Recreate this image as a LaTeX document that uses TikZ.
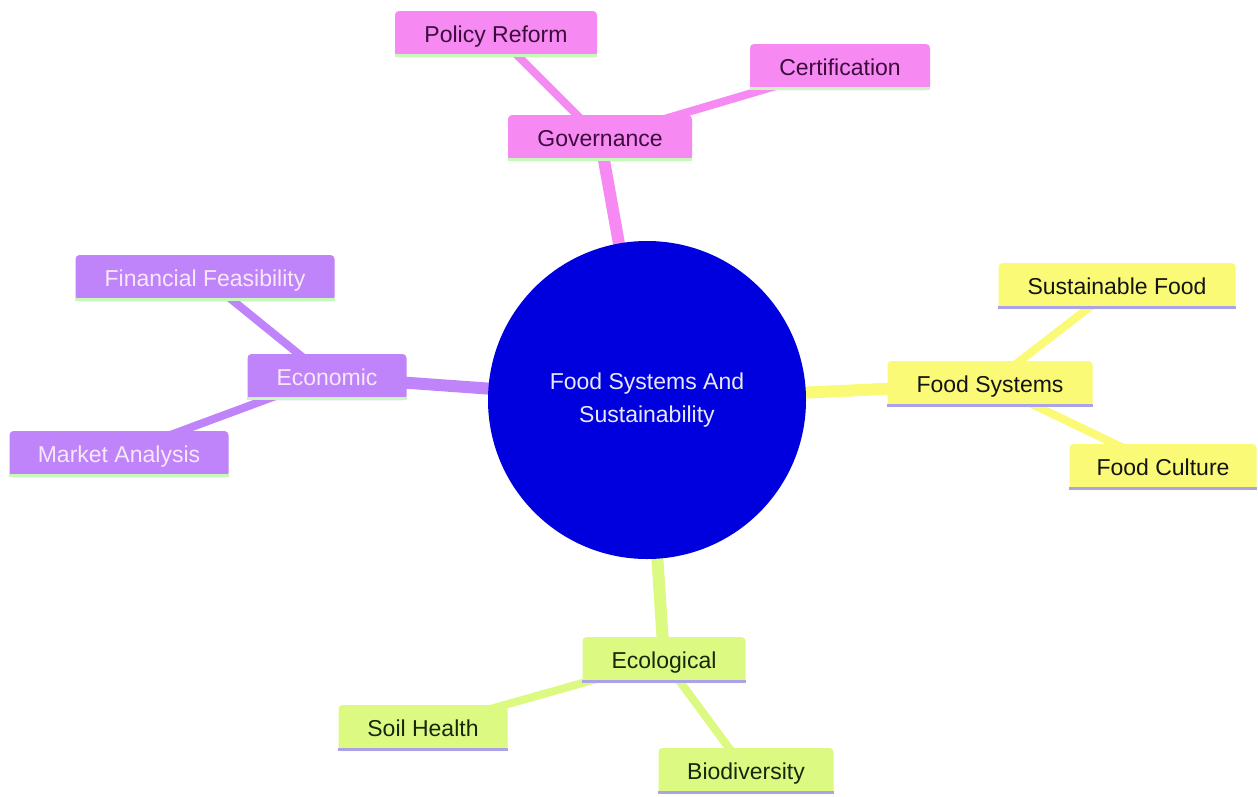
\documentclass[tikz,border=0pt]{standalone}
\usepackage{fontspec}
\setmainfont{Liberation Sans}
\usetikzlibrary{backgrounds}
\definecolor{pinkF}{RGB}{246,138,242}
\definecolor{pinkT}{RGB}{60,12,60}
\definecolor{purpF}{RGB}{192,132,250}
\definecolor{purpT}{RGB}{246,232,246}
\definecolor{yelF}{RGB}{250,250,118}
\definecolor{yelT}{RGB}{20,20,20}
\definecolor{grnF}{RGB}{220,250,130}
\definecolor{grnT}{RGB}{22,40,12}
\definecolor{ulGreen}{RGB}{200,248,188}
\definecolor{ulLav}{RGB}{172,162,232}
\definecolor{coreBlue}{RGB}{0,0,222}
\definecolor{coreT}{RGB}{232,232,245}
\tikzset{
  x=1pt, y=-1pt,
  box/.style={rectangle, rounded corners=4pt, inner xsep=0pt, inner ysep=0pt,
    minimum height=46pt, text height=17pt, text depth=0pt,
    font=\fontsize{23}{27}\selectfont},
  pinkbox/.style={box, fill=pinkF, text=pinkT},
  purpbox/.style={box, fill=purpF, text=purpT},
  yelbox/.style={box, fill=yelF, text=yelT},
  grnbox/.style={box, fill=grnF, text=grnT},
  mainedge/.style={line width=12pt},
  leafedge/.style={line width=8pt},
  uline/.style={line width=3.5pt},
}
\begin{document}
\begin{tikzpicture}
\useasboundingbox (0,0) rectangle (1258,796);
% central
\node[circle, fill=coreBlue, text=coreT, minimum size=318pt, inner sep=0pt,
  align=center, font=\fontsize{23}{33}\selectfont] (core) at (647,400)
  {Food Systems And\\Sustainability};
% governance
\node[pinkbox, minimum width=184pt] (gov) at (600,138) {Governance};
\node[pinkbox, minimum width=202pt] (pol) at (496,34) {Policy Reform};
\node[pinkbox, minimum width=180pt] (cert) at (840,67) {Certification};
% economic
\node[purpbox, minimum width=159pt] (eco) at (327,377) {Economic};
\node[purpbox, minimum width=259pt] (fin) at (205,278) {Financial Feasibility};
\node[purpbox, minimum width=219pt] (mkt) at (119,454) {Market Analysis};
% food systems
\node[yelbox, minimum width=205pt] (fs) at (990,384) {Food Systems};
\node[yelbox, minimum width=237pt] (sf) at (1117,286) {Sustainable Food};
\node[yelbox, minimum width=187pt] (fc) at (1163,467) {Food Culture};
% ecological
\node[grnbox, minimum width=163pt] (ecol) at (664,660) {Ecological};
\node[grnbox, minimum width=169pt] (soil) at (423,728) {Soil Health};
\node[grnbox, minimum width=175pt] (bio) at (746,771) {Biodiversity};
% underlines
\foreach \n in {gov,pol,cert,eco,fin,mkt}
  \draw[uline, ulGreen] ([yshift=1.5pt]\n.south west) -- ([yshift=1.5pt]\n.south east);
\foreach \n in {fs,sf,fc,ecol,soil,bio}
  \draw[uline, ulLav] ([yshift=1.5pt]\n.south west) -- ([yshift=1.5pt]\n.south east);
\begin{pgfonlayer}{background}
\fill[white] (0,0) rectangle (1258,796);
\draw[mainedge, pinkF] (core.center) -- (gov.center);
\draw[mainedge, purpF] (core.center) -- (eco.center);
\draw[mainedge, yelF] (core.center) -- (fs.center);
\draw[mainedge, grnF] (core.center) -- (ecol.center);
\draw[leafedge, pinkF] (gov.center) -- (pol.center);
\draw[leafedge, pinkF] (gov.center) -- (cert.center);
\draw[leafedge, purpF] (eco.center) -- (fin.center);
\draw[leafedge, purpF] (eco.center) -- (mkt.center);
\draw[leafedge, yelF] (fs.center) -- (sf.center);
\draw[leafedge, yelF] (fs.center) -- (fc.center);
\draw[leafedge, grnF] (ecol.center) -- (soil.center);
\draw[leafedge, grnF] (ecol.center) -- (bio.center);
\end{pgfonlayer}
\end{tikzpicture}
\end{document}
